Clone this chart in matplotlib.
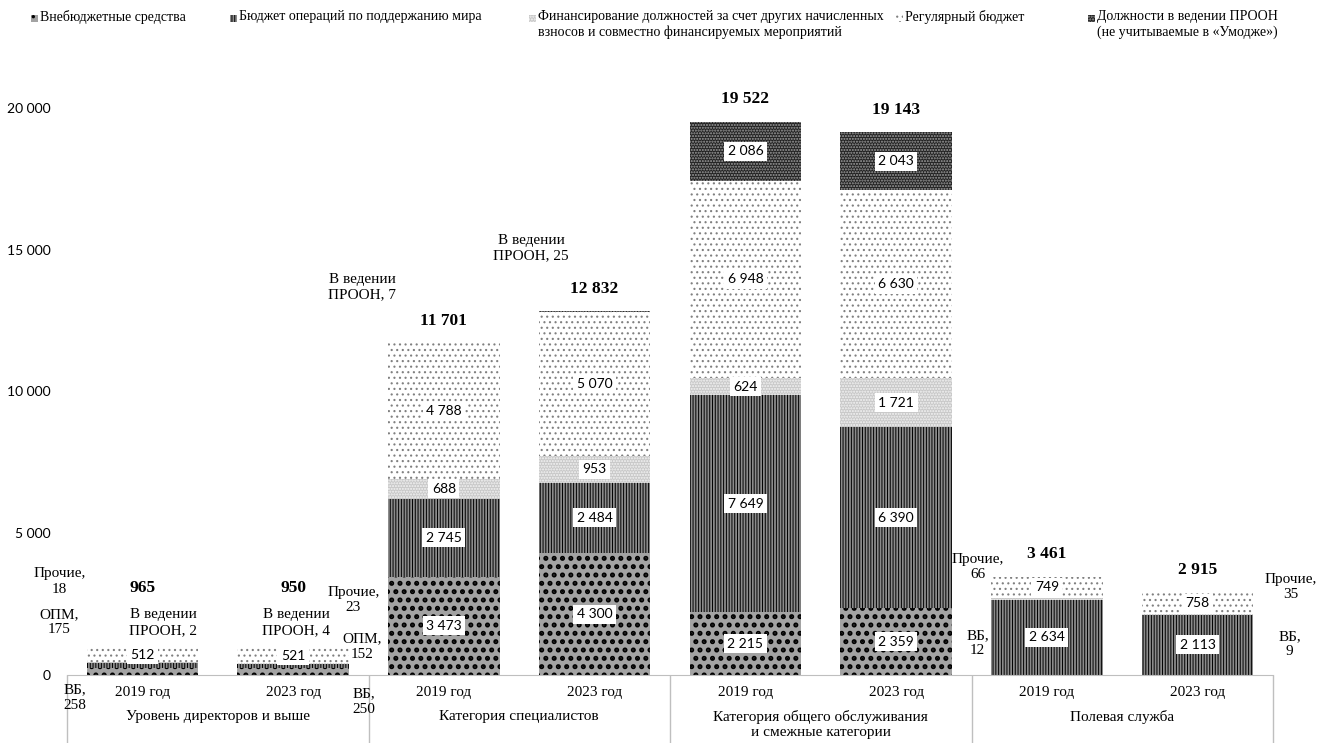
import numpy as np
import matplotlib.pyplot as plt
from matplotlib.patches import Rectangle

plt.rcParams['font.family'] = ['Liberation Serif', 'DejaVu Serif']
plt.rcParams['font.size'] = 11
plt.rcParams['hatch.linewidth'] = 1.0

groups = ['Уровень директоров и выше', 'Категория специалистов',
          'Категория общего обслуживания\nи смежные категории', 'Полевая служба']
years = ['2019 год', '2023 год']
series = ['Внебюджетные средства',
          'Бюджет операций по поддержанию мира',
          'Финансирование должностей за счет других начисленных\nвзносов и совместно финансируемых мероприятий',
          'Регулярный бюджет',
          'Должности в ведении ПРООН\n(не учитываемые в «Умодже»)']
short = ['ВБ,\n{}', 'ОПМ,\n{}', 'Прочие,\n{}', None, 'В ведении\nПРООН, {}']

vb = [258, 250, 3473, 4300, 2215, 2359, 12, 9]
opm = [175, 152, 2745, 2484, 7649, 6390, 2634, 2113]
other = [18, 23, 688, 953, 624, 1721, 66, 35]
regular = [512, 521, 4788, 5070, 6948, 6630, 749, 758]
undp = [2, 4, 7, 25, 2086, 2043, 0, 0]
totals = [965, 950, 11701, 12832, 19522, 19143, 3461, 2915]
data = [vb, opm, other, regular, undp]

styles = [
    dict(facecolor='#a3a3a3', edgecolor='black', hatch='..'),
    dict(facecolor='#8c8c8c', edgecolor='black', hatch='||||||'),
    dict(facecolor='#c8c8c8', edgecolor='#f4f4f4', hatch='......'),
    dict(facecolor='white', edgecolor='#808080', hatch='...'),
    dict(facecolor='#222222', edgecolor='#a0a0a0', hatch='......'),
]
hatch_lw = [2.4, 0.7, 1.0, 0.8, 1.0]

# where excel put the labels of the thin segments (x in bar slots, y in data)
out_pos = {
    (0, 0): (-0.45, -800), (1, 0): (-0.55, 1870), (2, 0): (-0.55, 3300), (4, 0): (0.14, 1850),
    (0, 1): (1.47, -950), (1, 1): (1.46, 990), (2, 1): (1.40, 2650), (4, 1): (1.02, 1850),
    (4, 2): (1.46, 13685), (4, 3): (2.58, 15060),
    (0, 6): (5.54, 1130), (2, 6): (5.54, 3810),
    (0, 7): (7.61, 1095), (2, 7): (7.62, 3105),
}
total_y = {0: 3070, 1: 3070}


def fmt(v):
    return f'{int(v):,}'.replace(',', ' ')


def hatch_width(artists, lw):
    for a in artists:
        if hasattr(a, 'set_hatch_linewidth'):
            a.set_hatch_linewidth(lw)


fig = plt.figure(figsize=(13.17, 7.43), dpi=100)
ax = fig.add_axes([67 / 1317, 68 / 743, 1206 / 1317, 567 / 743])

x = np.arange(len(totals))
bottom = np.zeros(len(totals))
for k, vals in enumerate(data):
    vals = np.array(vals)
    bars = ax.bar(x, vals, 0.74, bottom=bottom, linewidth=0, **styles[k])
    hatch_width(bars, hatch_lw[k])
    for i, v in enumerate(vals):
        if v >= 500:
            ax.text(i, bottom[i] + v / 2, fmt(v), ha='center', va='center',
                    family=['Lato', 'DejaVu Sans'], fontsize=10,
                    bbox=dict(boxstyle='square,pad=0.25', fc='white', ec='none'))
        elif (k, i) in out_pos:
            px, py = out_pos[(k, i)]
            ax.text(px, py, short[k].format(v), ha='center', va='center',
                    linespacing=1.25, clip_on=False)
    bottom += vals

for i, t in enumerate(totals):
    ax.text(i, total_y.get(i, t + 800), fmt(t), ha='center', va='center',
            fontweight='bold', fontsize=12.5, clip_on=False)

ax.set_xlim(-0.5, len(totals) - 0.5)
ax.set_ylim(0, 20000)
yt = np.arange(0, 20001, 5000)
ax.set_yticks(yt)
ax.set_yticklabels([fmt(v) for v in yt], family=['Lato', 'DejaVu Sans'], fontsize=10)
ax.tick_params(axis='y', length=0, pad=12)

ax.set_xticks(x, [years[i % 2] for i in x])
ax.set_xticks(np.arange(-0.5, len(totals), 2), minor=True)
ax.tick_params(axis='x', which='major', length=0, pad=8)
ax.tick_params(axis='x', which='minor', length=50, color='#bfbfbf', width=1)

for s in ['top', 'right', 'left']:
    ax.spines[s].set_visible(False)
ax.spines['bottom'].set_color('#bfbfbf')

for g, name in enumerate(groups):
    ax.text(2 * g + 0.5, -0.062, name, transform=ax.get_xaxis_transform(),
            ha='center', va='top', linespacing=1.2)

# legend, laid out by hand like the original
W, H = 1317, 743
leg_x = [31, 230, 529, 896, 1088]
for k, lx in enumerate(leg_x):
    sw = Rectangle((lx / W, 1 - 22 / H), 7 / W, 7 / H,
                   transform=fig.transFigure, linewidth=0, **styles[k])
    hatch_width([sw], min(hatch_lw[k], 1.2))
    fig.add_artist(sw)
    fig.text((lx + 9) / W, 1 - 10 / H, series[k], ha='left', va='top', fontsize=10,
             multialignment='center' if k == 4 else 'left', linespacing=1.25)

fig.savefig('out.png', dpi=100)
